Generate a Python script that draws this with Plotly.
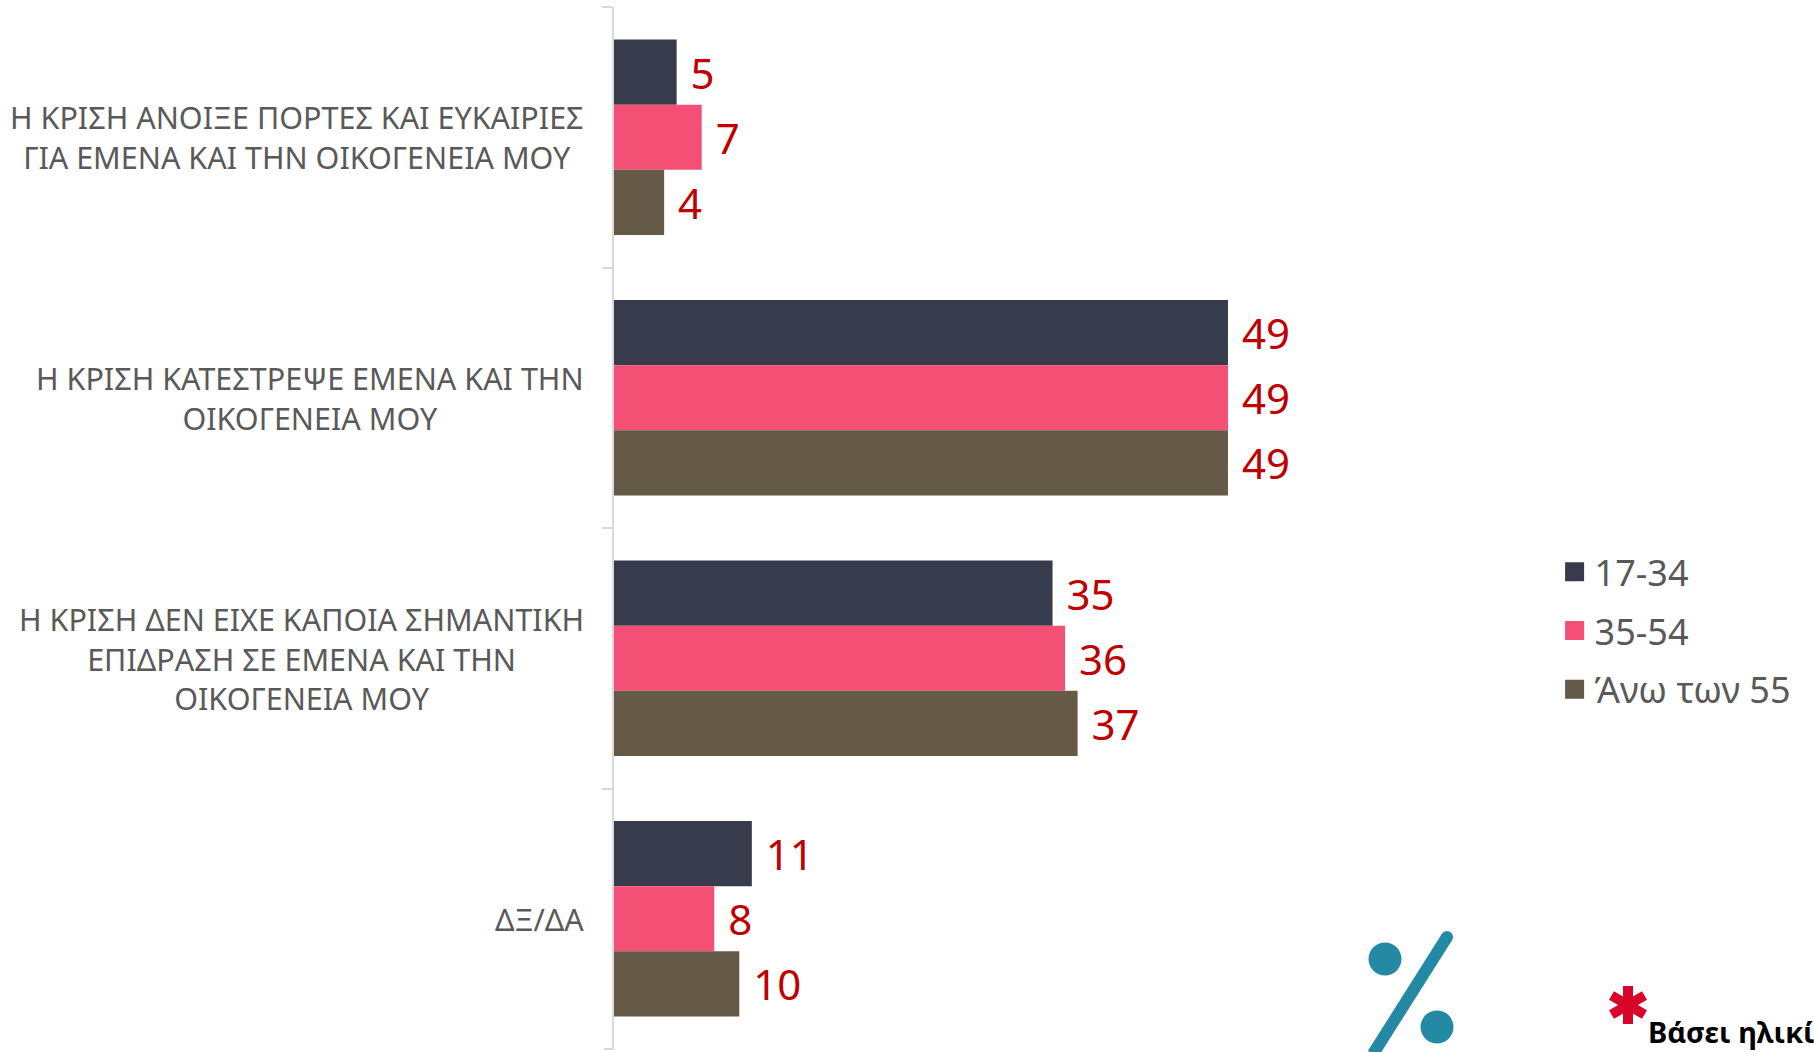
import plotly.graph_objects as go

categories = [
    "Η ΚΡΙΣΗ ΑΝΟΙΞΕ ΠΟΡΤΕΣ ΚΑΙ ΕΥΚΑΙΡΙΕΣ<br>ΓΙΑ ΕΜΕΝΑ ΚΑΙ ΤΗΝ ΟΙΚΟΓΕΝΕΙΑ ΜΟΥ",
    "Η ΚΡΙΣΗ ΚΑΤΕΣΤΡΕΨΕ ΕΜΕΝΑ ΚΑΙ ΤΗΝ<br>ΟΙΚΟΓΕΝΕΙΑ ΜΟΥ",
    "Η ΚΡΙΣΗ ΔΕΝ ΕΙΧΕ ΚΑΠΟΙΑ ΣΗΜΑΝΤΙΚΗ<br>ΕΠΙΔΡΑΣΗ ΣΕ ΕΜΕΝΑ ΚΑΙ ΤΗΝ<br>ΟΙΚΟΓΕΝΕΙΑ ΜΟΥ",
    "ΔΞ/ΔΑ",
]
series_names = ["17-34", "35-54", "Άνω των 55"]
values_17_34 = [5, 49, 35, 11]
values_35_54 = [7, 49, 36, 8]
values_55_plus = [4, 49, 37, 10]
series_values = [values_17_34, values_35_54, values_55_plus]
colors = ["#383B4B", "#F45075", "#655A48"]

W, H = 1814, 1052
L, R, T, B = 614, 300, 7, 3
PX_PER_UNIT = 12.53
FONT = "Noto Sans"
GREY = "#595959"
TEAL = "#2489A5"
RED = "#D90429"

def px(x): return (x - L) / (W - L - R)
def py(y): return 1 - (y - T) / (H - T - B)

fig = go.Figure()
for name, vals, col in zip(series_names, series_values, colors):
    fig.add_trace(go.Bar(
        y=categories, x=vals, orientation="h", name=name,
        marker=dict(color=col, line=dict(width=0)),
        text=[f"\u00a0{v}" for v in vals], textposition="outside",
        textfont=dict(family=FONT, size=42, color="#C00000"),
        constraintext="none", cliponaxis=False, showlegend=False,
    ))
    fig.add_trace(go.Scatter(
        x=[None], y=[None], mode="markers", name=name, legendgroup=name,
        marker=dict(symbol="square", size=16, color=col, line=dict(color=col, width=3)),
    ))

annotations = [
    dict(x=0, y=c, xref="x", yref="y", text=c, showarrow=False, xanchor="right",
         xshift=-28, align="center", font=dict(family=FONT, size=30.5, color=GREY))
    for c in categories
]
annotations.append(dict(x=px(1647), y=py(1043), xref="paper", yref="paper", text="Βάσει ηλικί",
                        showarrow=False, xanchor="left", yanchor="bottom", yshift=-9, borderpad=0,
                        font=dict(family=FONT, size=29, color="#000000", weight="bold")))

shapes = []
for cx, cy, r in [(1385, 959, 16.5), (1437, 1027, 16.5), (1447, 937, 6)]:
    shapes.append(dict(type="circle", xref="paper", yref="paper", x0=px(cx-r), x1=px(cx+r),
                       y0=py(cy+r), y1=py(cy-r), fillcolor=TEAL, line=dict(width=0)))
shapes.append(dict(type="path", xref="paper", yref="paper",
                   path=f"M {px(1447)} {py(937)} L {px(1373)} {py(1054)}",
                   line=dict(color=TEAL, width=12)))
for dx, dy in [(0, 19), (16.5, 9.5), (16.5, -9.5)]:
    shapes.append(dict(type="line", xref="paper", yref="paper", x0=px(1628-dx), x1=px(1628+dx),
                       y0=py(1005-dy), y1=py(1005+dy), line=dict(color=RED, width=10)))
# closing tick at the foot of the category axis
shapes.append(dict(type="line", xref="paper", yref="paper", x0=px(L-10), x1=0, y0=py(1049), y1=py(1049),
                   line=dict(color="#D9D9D9", width=2)))

fig.update_layout(
    width=W, height=H, autosize=False,
    margin=dict(l=L, r=R, t=T, b=B, pad=0),
    paper_bgcolor="white", plot_bgcolor="white",
    barmode="group", bargap=0.25, bargroupgap=0,
    font=dict(family=FONT, color=GREY),
    xaxis=dict(range=[0, (W - L - R) / PX_PER_UNIT], visible=False, fixedrange=True),
    yaxis=dict(type="category", categoryorder="array", categoryarray=categories, autorange="reversed",
               showticklabels=False, ticks="outside", ticklen=10, tickwidth=2, tickcolor="#D9D9D9",
               tickson="boundaries", showline=True, linecolor="#D9D9D9", linewidth=2, showgrid=False),
    legend=dict(xref="container", yref="container", x=0.857, y=0.485, xanchor="left", yanchor="top",
                font=dict(family=FONT, size=36, color=GREY), tracegroupgap=9, itemwidth=30,
                bgcolor="rgba(0,0,0,0)"),
    annotations=annotations, shapes=shapes,
)
fig.write_html("out.html", config=dict(displayModeBar=False),
               post_script="document.body.style.margin='0';document.body.style.overflow='hidden';")
